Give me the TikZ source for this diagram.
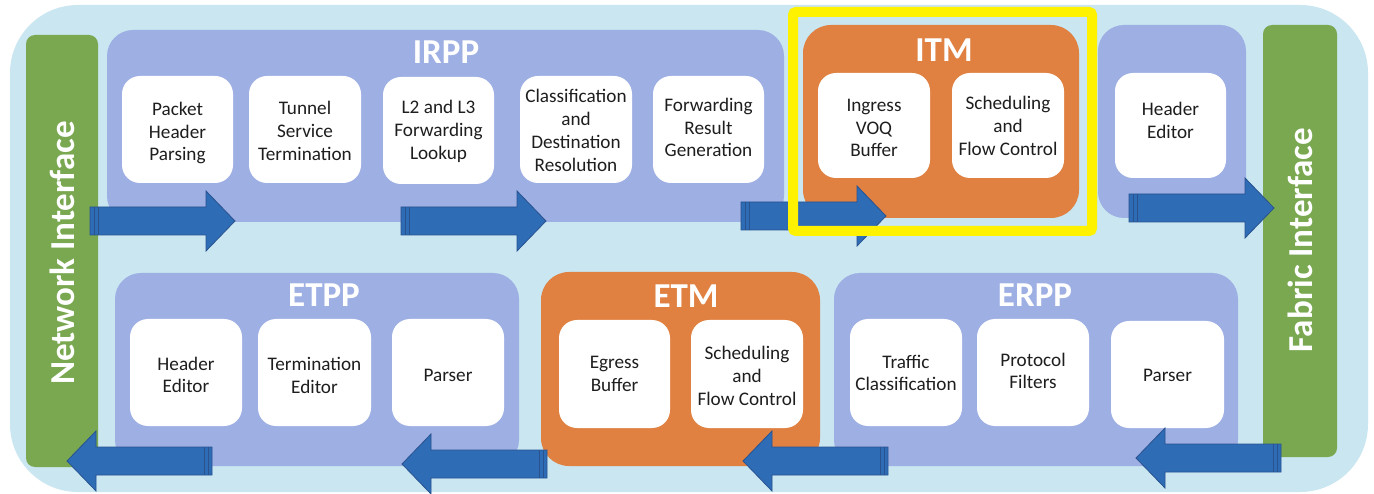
\documentclass[tikz,border=0pt]{standalone}
\usepackage{fontspec}
\setmainfont{Carlito}
\definecolor{bgblue}{HTML}{C9E6F1}
\definecolor{lavender}{HTML}{9EAFE3}
\definecolor{tmorange}{HTML}{E08142}
\definecolor{ifgreen}{HTML}{79A851}
\definecolor{arrowblue}{HTML}{2E6DB6}
\definecolor{arrowedge}{HTML}{29528F}
\definecolor{hilite}{HTML}{FFF200}
\definecolor{boxtext}{HTML}{1E1E1E}
\tikzset{
  container/.style={fill=lavender, rounded corners=26, inner sep=0},
  tmblock/.style={fill=tmorange, rounded corners=28, inner sep=0},
  ifbar/.style={fill=ifgreen, rounded corners=9, inner sep=0},
  stagebox/.style={fill=white, rounded corners=18, inner sep=2, align=center,
    text=boxtext, font=\fontsize{19.2}{22.8}\selectfont},
  stagetext/.style={inner sep=0, align=center, text=boxtext,
    font=\fontsize{19.2}{22.8}\selectfont},
  blocktitle/.style={text=white, inner sep=0, font=\fontsize{35}{38}\selectfont\bfseries},
  iftitle/.style={text=white, inner sep=0, rotate=90, font=\fontsize{35}{38}\selectfont\bfseries},
  blockarrow/.pic={
    \draw[fill=arrowblue, draw=arrowedge, line width=0.8]
      (0,-14) -- (116,-14) -- (116,-30) -- (145,0) -- (116,30) -- (116,14) -- (0,14) -- cycle;
    \draw[arrowedge, line width=0.7] (4,-14) -- (4,14) (8,-14) -- (8,14);
  }
}
\begin{document}
\begin{tikzpicture}[x=1pt,y=-1pt]
\useasboundingbox (0,0) rectangle (1374,494);
\fill[white] (0,0) rectangle (1374,494);
% chip outline
\fill[bgblue, rounded corners=68] (10,5) rectangle (1368,492);

% interfaces
\node[ifbar, minimum width=72, minimum height=432] (nif) at (62,251) {};
\node[ifbar, minimum width=74, minimum height=432] (fif) at (1300,241) {};
\node[iftitle] at (62,253) {Network Interface};
\node[iftitle] at (1300,240) {Fabric Interface};

% pipeline blocks
\node[container, minimum width=677, minimum height=192] (irpp) at (445.5,126) {};
\node[tmblock, minimum width=276, minimum height=193] (itm) at (941,121.5) {};
\node[container, minimum width=148, minimum height=193] (hdr) at (1172,121.5) {};
\node[container, minimum width=404, minimum height=193] (etpp) at (317,369.5) {};
\node[tmblock, minimum width=279, minimum height=194] (etm) at (680.5,369) {};
\node[container, minimum width=404, minimum height=193] (erpp) at (1036,369.5) {};

\node[blocktitle] (irppT) at (446,52) {IRPP};
\node[blocktitle] (itmT) at (944,50) {ITM};
\node[blocktitle] (etppT) at (324,295) {ETPP};
\node[blocktitle] (etmT) at (686,296) {ETM};
\node[blocktitle] (erppT) at (1035,295) {ERPP};

% IRPP stages
\node[stagebox, minimum width=111, minimum height=107] (php) at (177.5,129.5) {};
\node[stagetext] at (177.5,133) {Packet\\Header\\Parsing};
\node[stagebox, minimum width=112, minimum height=107] (tst) at (305,129.5) {};
\node[stagetext] at (305,131) {Tunnel\\Service\\Termination};
\node[stagebox, minimum width=111, minimum height=107] (fwl) at (438.5,130.5) {};
\node[stagetext] at (438.5,131.5) {L2 and L3\\Forwarding\\Lookup};
\node[stagebox, minimum width=112, minimum height=107] (cdr) at (576,129.5) {};
\node[stagetext] at (576,130.5) {Classification\\and\\Destination\\Resolution};
\node[stagebox, minimum width=111, minimum height=107] (frg) at (708.5,129.5) {};
\node[stagetext] at (708.5,127.5) {Forwarding\\Result\\Generation};
% ITM stages
\node[stagebox, minimum width=112, minimum height=105] (voq) at (874,125.5) {};
\node[stagetext] at (874,128) {Ingress\\VOQ\\Buffer};
\node[stagebox, minimum width=112, minimum height=105] (isch) at (1008,125.5) {};
\node[stagetext] at (1008,126) {Scheduling\\and\\Flow Control};
\node[stagebox, minimum width=111, minimum height=105] (hed) at (1170.5,125.5) {};
\node[stagetext] at (1170.5,120.5) {Header\\Editor};
% ETPP stages
\node[stagebox, minimum width=112, minimum height=107] (ehe) at (186,372.5) {};
\node[stagetext] at (186,375) {Header\\Editor};
\node[stagebox, minimum width=113, minimum height=107] (ete) at (314.5,372.5) {};
\node[stagetext] at (314.5,375.5) {Termination\\Editor};
\node[stagebox, minimum width=112, minimum height=107] (epa) at (448,372.5) {};
\node[stagetext] at (448,375) {Parser};
% ETM stages
\node[stagebox, minimum width=111, minimum height=108] (egb) at (614.5,374) {};
\node[stagetext] at (614.5,374) {Egress\\Buffer};
\node[stagebox, minimum width=112, minimum height=108] (esch) at (747,374) {};
\node[stagetext] at (747,376) {Scheduling\\and\\Flow Control};
% ERPP stages
\node[stagebox, minimum width=112, minimum height=107] (etc) at (906,372.5) {};
\node[stagetext] at (906,373) {Traffic\\Classification};
\node[stagebox, minimum width=112, minimum height=107] (epf) at (1033,372.5) {};
\node[stagetext] at (1033,371) {Protocol\\Filters};
\node[stagebox, minimum width=113, minimum height=107] (rpa) at (1167.5,374.5) {};
\node[stagetext] at (1167.5,375) {Parser};

% packet flow, ingress (left to right)
\pic at (90,221) {blockarrow};
\pic at (401,221) {blockarrow};
\pic at (741,216) {blockarrow};
\pic at (1129,208) {blockarrow};
% packet flow, egress (right to left)
\pic[xscale=-1] at (1281,458) {blockarrow};
\pic[xscale=-1] at (888,461) {blockarrow};
\pic[xscale=-1] at (547,464) {blockarrow};
\pic[xscale=-1] at (212,461) {blockarrow};

% highlight around the ingress traffic manager
\draw[hilite, line width=10, rounded corners=3] (793,12) rectangle (1092,231);
\end{tikzpicture}
\end{document}
